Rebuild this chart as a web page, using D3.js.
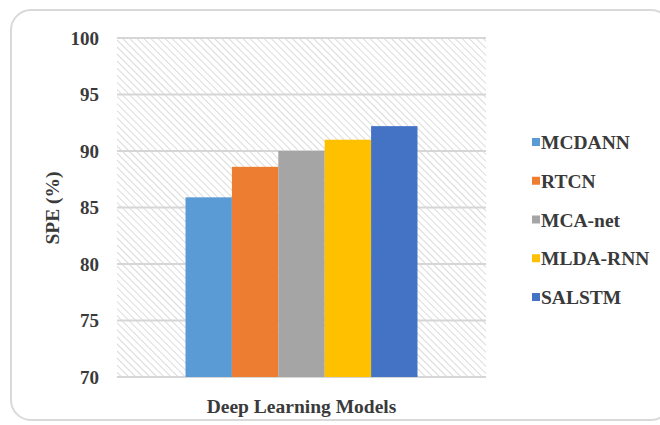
<!DOCTYPE html>
<html>
<head>
<meta charset="utf-8">
<script src="https://cdn.jsdelivr.net/npm/d3@7"></script>
<style>
  html, body { margin: 0; padding: 0; background: #ffffff; }
  svg { display: block; }
</style>
</head>
<body>
<svg id="chart" width="660" height="425"></svg>
<script>
// Specificity (SPE) of each deep learning model
const models = ["MCDANN", "RTCN", "MCA-net", "MLDA-RNN", "SALSTM"];
const speValues = [85.9, 88.6, 90.0, 91.0, 92.2];
const colors = ["#5B9BD5", "#ED7D31", "#A5A5A5", "#FFC000", "#4472C4"];
const groupLabel = ["Deep Learning Models"];
const yTicks = [70, 75, 80, 85, 90, 95, 100];
const yTitle = "SPE (%)";

const FONT = "'Liberation Serif', 'Times New Roman', Tinos, serif";
const TEXT_COLOR = "#3a3a3a";

// Apply the shared label styling to a text selection
function styleText(sel, size) {
  sel.style("font-family", FONT)
    .style("font-weight", "bold")
    .style("font-size", size + "px")
    .style("fill", TEXT_COLOR);
}

const svg = d3.select("#chart");

// Outer rounded frame
svg.append("rect")
  .attr("x", 11).attr("y", 10)
  .attr("width", 660).attr("height", 410)
  .attr("rx", 20).attr("ry", 20)
  .attr("fill", "#ffffff")
  .attr("stroke", "#d9d9d9")
  .attr("stroke-width", 2);

const plot = { left: 117, right: 486, top: 38, bottom: 377 };

// Diagonal hatch fill for the plot area
const defs = svg.append("defs");
const pat = defs.append("pattern")
  .attr("id", "hatch")
  .attr("patternUnits", "userSpaceOnUse")
  .attr("width", 5).attr("height", 5)
  .attr("patternTransform", "rotate(45)");
pat.append("rect").attr("width", 5).attr("height", 5).attr("fill", "#ffffff");
pat.append("line")
  .attr("x1", 0).attr("y1", 0).attr("x2", 5).attr("y2", 0)
  .attr("stroke", "#d2d2d2").attr("stroke-width", 1.6);

svg.append("rect")
  .attr("x", plot.left).attr("y", plot.top)
  .attr("width", plot.right - plot.left)
  .attr("height", plot.bottom - plot.top)
  .attr("fill", "url(#hatch)");

// Scales
const y = d3.scaleLinear().domain([70, 100]).range([plot.bottom, plot.top]);
const xGroup = d3.scaleBand().domain(groupLabel)
  .range([plot.left, plot.right]).padding(0.228);
const xModel = d3.scaleBand().domain(models)
  .range([0, xGroup.bandwidth()]).padding(0);

// Horizontal gridlines
svg.append("g")
  .selectAll("line")
  .data(yTicks)
  .join("line")
  .attr("x1", plot.left).attr("x2", plot.right)
  .attr("y1", d => y(d)).attr("y2", d => y(d))
  .attr("stroke", "#d6d6d6")
  .attr("stroke-width", 1.8);

// Bars
const g = svg.append("g").attr("transform", `translate(${xGroup(groupLabel[0])},0)`);
g.selectAll("rect")
  .data(models.map((m, i) => ({ m, v: speValues[i], c: colors[i] })))
  .join("rect")
  .attr("x", d => xModel(d.m))
  .attr("y", d => y(d.v))
  .attr("width", xModel.bandwidth())
  .attr("height", d => y(70) - y(d.v))
  .attr("fill", d => d.c);

// Y axis tick labels
const yAxis = d3.axisLeft(y).tickValues(yTicks).tickSize(0).tickPadding(18);
const ya = svg.append("g").attr("transform", `translate(${plot.left},0)`).call(yAxis);
ya.select(".domain").remove();
ya.selectAll("text").call(styleText, 19);

// X axis category label
const xAxis = d3.axisBottom(xGroup).tickSize(0).tickPadding(22);
const xa = svg.append("g").attr("transform", `translate(0,${plot.bottom})`).call(xAxis);
xa.select(".domain").remove();
xa.selectAll("text").call(styleText, 19.5);

// Y axis title
svg.append("text")
  .attr("transform", "translate(59,208) rotate(-90)")
  .attr("text-anchor", "middle")
  .text(yTitle)
  .call(styleText, 19.5);

// Legend
const legend = svg.append("g").attr("transform", "translate(532,0)");
const rowY = d3.scalePoint().domain(models).range([142.5, 297.5]);
const items = legend.selectAll("g")
  .data(models.map((m, i) => ({ m, c: colors[i] })))
  .join("g")
  .attr("transform", d => `translate(0,${rowY(d.m)})`);
items.append("rect")
  .attr("x", 0).attr("y", -4.5)
  .attr("width", 8).attr("height", 8)
  .attr("fill", d => d.c);
items.append("text")
  .attr("x", 9).attr("y", 6.5)
  .text(d => d.m)
  .call(styleText, 19.5);
</script>
</body>
</html>
